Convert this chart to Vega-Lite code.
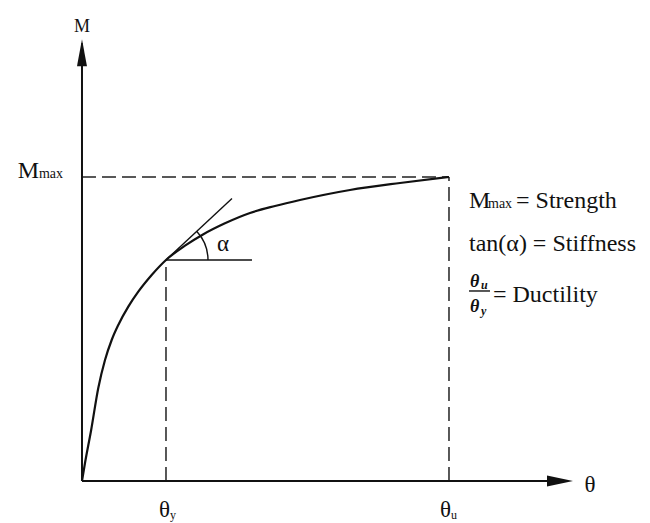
{
  "$schema": "https://vega.github.io/schema/vega-lite/v6.json",
  "width": 650,
  "height": 523,
  "padding": 0,
  "autosize": {"type": "none"},
  "background": "white",
  "config": {"view": {"stroke": null}, "text": {"font": "Liberation Serif", "color": "#111"}},
  "encoding": {
    "x": {"field": "t", "type": "quantitative", "scale": {"domain": [-2.234, 15.477], "nice": false, "zero": false}, "axis": null},
    "y": {"field": "m", "type": "quantitative", "scale": {"domain": [-1.382, 15.822], "nice": false, "zero": false}, "axis": null}
  },
  "layer": [
    {
      "data": {"values": [
        {"t": 0, "m": 10, "t2": 10, "m2": 10},
        {"t": 10, "m": 0, "t2": 10, "m2": 10},
        {"t": 2.289, "m": 0, "t2": 2.289, "m2": 7.27}
      ]},
      "mark": {"type": "rule", "strokeDash": [14, 6], "strokeWidth": 1.5, "color": "#222"},
      "encoding": {"x2": {"field": "t2"}, "y2": {"field": "m2"}}
    },
    {
      "data": {"values": [
        {"t": 0, "m": 0, "t2": 13.2, "m2": 0},
        {"t": 0, "m": 0, "t2": 0, "m2": 14.4}
      ]},
      "mark": {"type": "rule", "strokeWidth": 2, "color": "#111"},
      "encoding": {"x2": {"field": "t2"}, "y2": {"field": "m2"}}
    },
    {
      "data": {"values": [
        {"t": 2.289, "m": 7.27, "t2": 4.087, "m2": 9.29},
        {"t": 2.289, "m": 7.27, "t2": 4.632, "m2": 7.27},
        {"t": 10.545, "m": 6.25, "t2": 11.117, "m2": 6.25}
      ]},
      "mark": {"type": "rule", "strokeWidth": 1.4, "color": "#111"},
      "encoding": {"x2": {"field": "t2"}, "y2": {"field": "m2"}}
    },
    {
      "data": {"values": [
        {"t": 0, "m": 0},
        {"t": 0.082, "m": 0.592},
        {"t": 0.25, "m": 1.678},
        {"t": 0.444, "m": 3.06},
        {"t": 0.627, "m": 3.98},
        {"t": 0.809, "m": 4.638},
        {"t": 0.989, "m": 5.132},
        {"t": 1.262, "m": 5.734},
        {"t": 1.534, "m": 6.227},
        {"t": 1.899, "m": 6.776},
        {"t": 2.289, "m": 7.27},
        {"t": 2.807, "m": 7.74},
        {"t": 3.297, "m": 8.11},
        {"t": 3.896, "m": 8.477},
        {"t": 4.578, "m": 8.816},
        {"t": 5.259, "m": 9.046},
        {"t": 5.94, "m": 9.243},
        {"t": 7.302, "m": 9.572},
        {"t": 8.665, "m": 9.803},
        {"t": 10, "m": 10}
      ]},
      "mark": {"type": "line", "interpolate": "monotone", "strokeWidth": 2.2, "color": "#111"},
      "encoding": {"order": {"field": "t", "type": "quantitative"}}
    },
    {
      "data": {"values": [{"t": 2.289, "m": 7.27, "a0": 0.826, "a1": 1.5708}]},
      "mark": {"type": "arc", "radius": 42.7, "radius2": 41.3, "fill": "#111", "stroke": null},
      "encoding": {
        "theta": {"field": "a0", "type": "quantitative", "scale": null, "stack": null},
        "theta2": {"field": "a1"}
      }
    },
    {
      "data": {"values": [{"t": 13.379, "m": 0}]},
      "mark": {"type": "point", "shape": "M0,0L-2,-0.42L-2,0.42Z", "size": 676, "filled": true, "opacity": 1, "color": "#111", "strokeWidth": 0}
    },
    {
      "data": {"values": [{"t": 0, "m": 14.53}]},
      "mark": {"type": "point", "shape": "M0,0L-0.37,2L0.37,2Z", "size": 729, "filled": true, "opacity": 1, "color": "#111", "strokeWidth": 0}
    },
    {
      "data": {"values": [
        {"t": 10.545, "m": 8.99, "label": "M"},
        {"t": 11.826, "m": 8.99, "label": "= Strength"},
        {"t": 10.545, "m": 7.576, "label": "tan(α) = Stiffness"},
        {"t": 11.199, "m": 5.898, "label": "= Ductility"}
      ]},
      "mark": {"type": "text", "fontSize": 24, "align": "left", "baseline": "alphabetic"},
      "encoding": {"text": {"field": "label"}}
    },
    {
      "data": {"values": [{"t": -1.172, "m": 9.957, "label": "M"}]},
      "mark": {"type": "text", "fontSize": 24, "align": "right", "baseline": "alphabetic"},
      "encoding": {"text": {"field": "label"}}
    },
    {
      "data": {"values": [
        {"t": 11.063, "m": 8.99, "label": "max"},
        {"t": -1.172, "m": 9.957, "label": "max"}
      ]},
      "mark": {"type": "text", "fontSize": 14, "align": "left", "baseline": "alphabetic"},
      "encoding": {"text": {"field": "label"}}
    },
    {
      "data": {"values": [
        {"t": 10.572, "m": 6.391, "label": "θ"},
        {"t": 10.572, "m": 5.569, "label": "θ"}
      ]},
      "mark": {"type": "text", "fontSize": 18, "fontStyle": "italic", "fontWeight": "bold", "align": "left", "baseline": "alphabetic"},
      "encoding": {"text": {"field": "label"}}
    },
    {
      "data": {"values": [
        {"t": 10.872, "m": 6.316, "label": "u"},
        {"t": 10.872, "m": 5.461, "label": "y"}
      ]},
      "mark": {"type": "text", "fontSize": 12, "fontStyle": "italic", "fontWeight": "bold", "align": "left", "baseline": "alphabetic"},
      "encoding": {"text": {"field": "label"}}
    },
    {
      "data": {"values": [{"t": 0, "m": 14.753, "label": "M"}]},
      "mark": {"type": "text", "fontSize": 18, "align": "center", "baseline": "alphabetic"},
      "encoding": {"text": {"field": "label"}}
    },
    {
      "data": {"values": [{"t": 13.842, "m": -0.352, "label": "θ"}, {"t": 3.842, "m": 7.576, "label": "α"}]},
      "mark": {"type": "text", "fontSize": 23, "align": "center", "baseline": "alphabetic"},
      "encoding": {"text": {"field": "label"}}
    },
    {
      "data": {"values": [{"t": 2.398, "m": -1.184, "label": "θ"}, {"t": 10.054, "m": -1.184, "label": "θ"}]},
      "mark": {"type": "text", "fontSize": 23, "align": "right", "baseline": "alphabetic"},
      "encoding": {"text": {"field": "label"}}
    },
    {
      "data": {"values": [{"t": 2.398, "m": -1.25, "label": "y"}, {"t": 10.054, "m": -1.25, "label": "u"}]},
      "mark": {"type": "text", "fontSize": 12, "align": "left", "baseline": "alphabetic"},
      "encoding": {"text": {"field": "label"}}
    }
  ]
}
